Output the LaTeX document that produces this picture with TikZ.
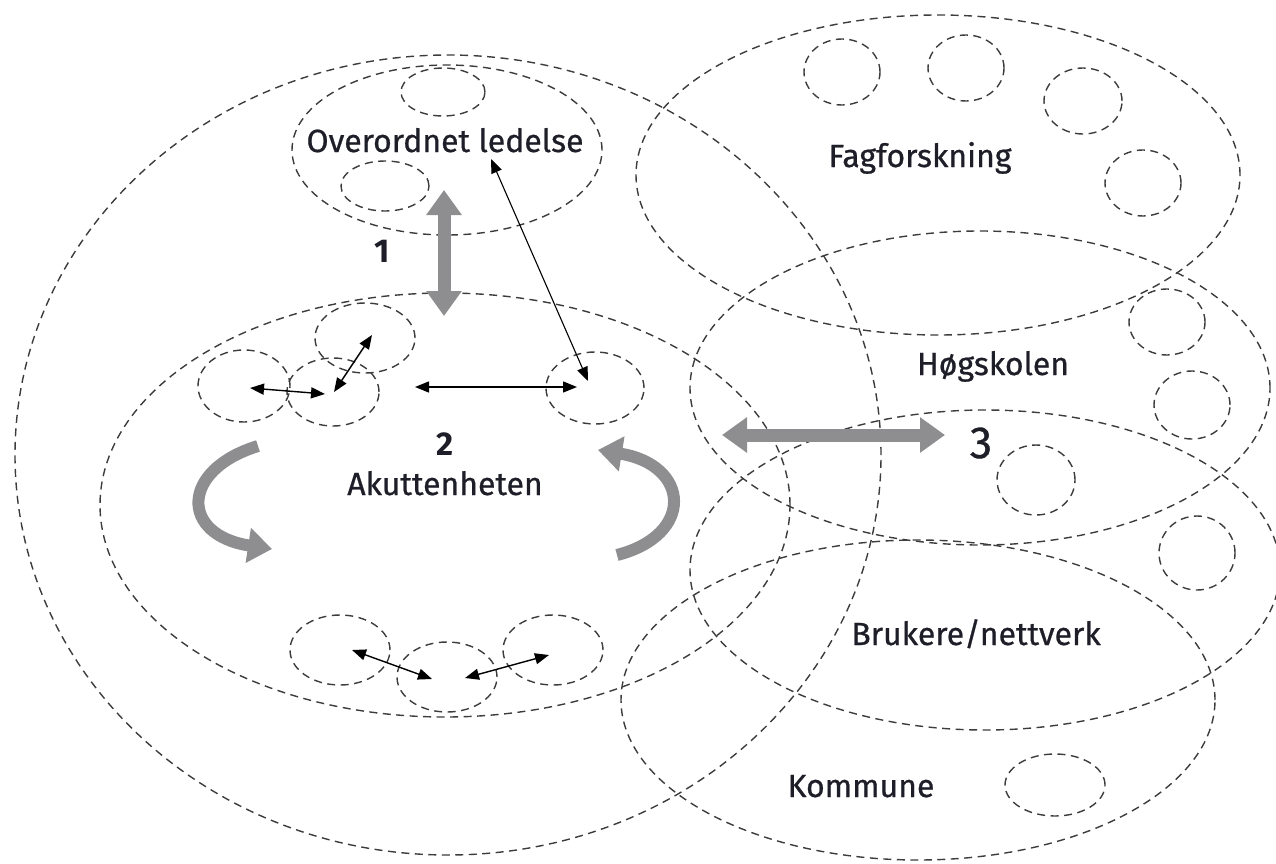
\documentclass[tikz,border=0pt]{standalone}
\usepackage{fontspec}
\setmainfont{Fira Sans}
\newfontfamily\lblfont{Fira Sans}[FakeBold=0.7]
\usetikzlibrary{shapes.geometric,arrows.meta}
\definecolor{dashc}{HTML}{3C3C3C}
\definecolor{arrg}{HTML}{8E8E90}
\definecolor{txt}{HTML}{1E1E28}
\tikzset{
  dcirc/.style={ellipse, draw=dashc, line width=1.4pt, dash pattern=on 8pt off 5.5pt, inner sep=0pt},
  lbl/.style={font=\lblfont\fontsize{32}{36}\selectfont, text=txt, inner sep=0pt, anchor=base},
  num/.style={font=\fontsize{33}{37}\selectfont\bfseries, text=txt, inner sep=0pt, anchor=base},
  thin/.style={line width=1.4pt, {Triangle[length=14pt,width=11pt]}-{Triangle[length=14pt,width=11pt]}},
  fat/.style={line width=13pt, draw=arrg, {Triangle[length=25pt,width=34pt]}-{Triangle[length=25pt,width=34pt]}},
  curv/.style={line width=12pt, draw=arrg, -{Triangle[length=24pt,width=34pt]}},
}
\begin{document}
\begin{tikzpicture}[x=1pt,y=-1pt]
\useasboundingbox (0,0) rectangle (1276,864);
\clip (0,0) rectangle (1276,864);
% big ellipses
\node[dcirc, minimum width=866, minimum height=800] (outer) at (448,455) {};
\node[dcirc, minimum width=310, minimum height=170] (led) at (447,150) {};
\node[dcirc, minimum width=690, minimum height=424] (akutt) at (445,505) {};
\node[dcirc, minimum width=604, minimum height=320] (fag) at (938,175) {};
\node[dcirc, minimum width=580, minimum height=314] (hog) at (980,388) {};
\node[dcirc, minimum width=590, minimum height=320] (bru) at (985,570) {};
\node[dcirc, minimum width=594, minimum height=320] (kom) at (918,700) {};
% small ellipses
\node[dcirc, minimum width=84, minimum height=48] (l1) at (443,92) {};
\node[dcirc, minimum width=88, minimum height=50] (l2) at (385,186) {};
\node[dcirc, minimum width=92, minimum height=72] (a1) at (244,386) {};
\node[dcirc, minimum width=92, minimum height=68] (a2) at (333,392) {};
\node[dcirc, minimum width=100, minimum height=70] (a3) at (365,338) {};
\node[dcirc, minimum width=98, minimum height=72] (a4) at (595,388) {};
\node[dcirc, minimum width=100, minimum height=70] (b1) at (340,650) {};
\node[dcirc, minimum width=100, minimum height=70] (b2) at (447,677) {};
\node[dcirc, minimum width=100, minimum height=70] (b3) at (553,650) {};
\node[dcirc, minimum width=76, minimum height=66] (f1) at (842,72) {};
\node[dcirc, minimum width=76, minimum height=66] (f2) at (966,68) {};
\node[dcirc, minimum width=78, minimum height=66] (f3) at (1083,101) {};
\node[dcirc, minimum width=76, minimum height=66] (f4) at (1143,183) {};
\node[dcirc, minimum width=76, minimum height=66] (h1) at (1167,322) {};
\node[dcirc, minimum width=76, minimum height=68] (h2) at (1192,405) {};
\node[dcirc, minimum width=78, minimum height=70] (h3) at (1036,480) {};
\node[dcirc, minimum width=76, minimum height=74] (u1) at (1197,553) {};
\node[dcirc, minimum width=100, minimum height=62] (k1) at (1055,785) {};
% labels
\node[lbl] (tled) at (445,152) {Overordnet ledelse};
\node[lbl] (tfag) at (920,167) {Fagforskning};
\node[lbl] (thog) at (993,375) {Høgskolen};
\node[lbl] (tbru) at (976,645) {Brukere/nettverk};
\node[lbl] (tkom) at (861,797) {Kommune};
\node[num] (n1) at (382,262) {1};
\node[num] (n2) at (445,455) {2};
\node[lbl] (takutt) at (445,495) {Akuttenheten};
\node[font=\lblfont\fontsize{45}{50}\selectfont, text=txt, inner sep=0pt, anchor=base] (n3) at (981,458) {3};
% coordinates for connectors
\coordinate (p1) at (250,388);
\coordinate (p2) at (325,394);
\coordinate (p3) at (334,392);
\coordinate (p4) at (372,335);
\coordinate (p5) at (415,387);
\coordinate (p6) at (577,387);
\coordinate (p7) at (491,159);
\coordinate (p8) at (588,381);
\coordinate (q1) at (352,650);
\coordinate (q2) at (432,679);
\coordinate (q3) at (465,678);
\coordinate (q4) at (549,655);
\coordinate (g1) at (444,190);
\coordinate (g2) at (444,316);
\coordinate (g3) at (722,435);
\coordinate (g4) at (945,435);
\coordinate (c1) at (258,446);
\coordinate (c2) at (272,549);
\coordinate (c3) at (617,555);
\coordinate (c4) at (598,450);
% thin arrows
\draw[thin] (p1) -- (p2);
\draw[thin] (p3) -- (p4);
\draw[thin] (p5) -- (p6);
\draw[thin, line width=1.1pt] (p7) -- (p8);
\draw[thin] (q1) -- (q2);
\draw[thin] (q3) -- (q4);
% gray arrows
\draw[fat] (g1) -- (g2);
\draw[fat] (g3) -- (g4);
\draw[curv] (c1) .. controls (180,470) and (180,535) .. (c2);
\draw[curv] (c3) .. controls (695,535) and (690,465) .. (c4);
\end{tikzpicture}
\end{document}
